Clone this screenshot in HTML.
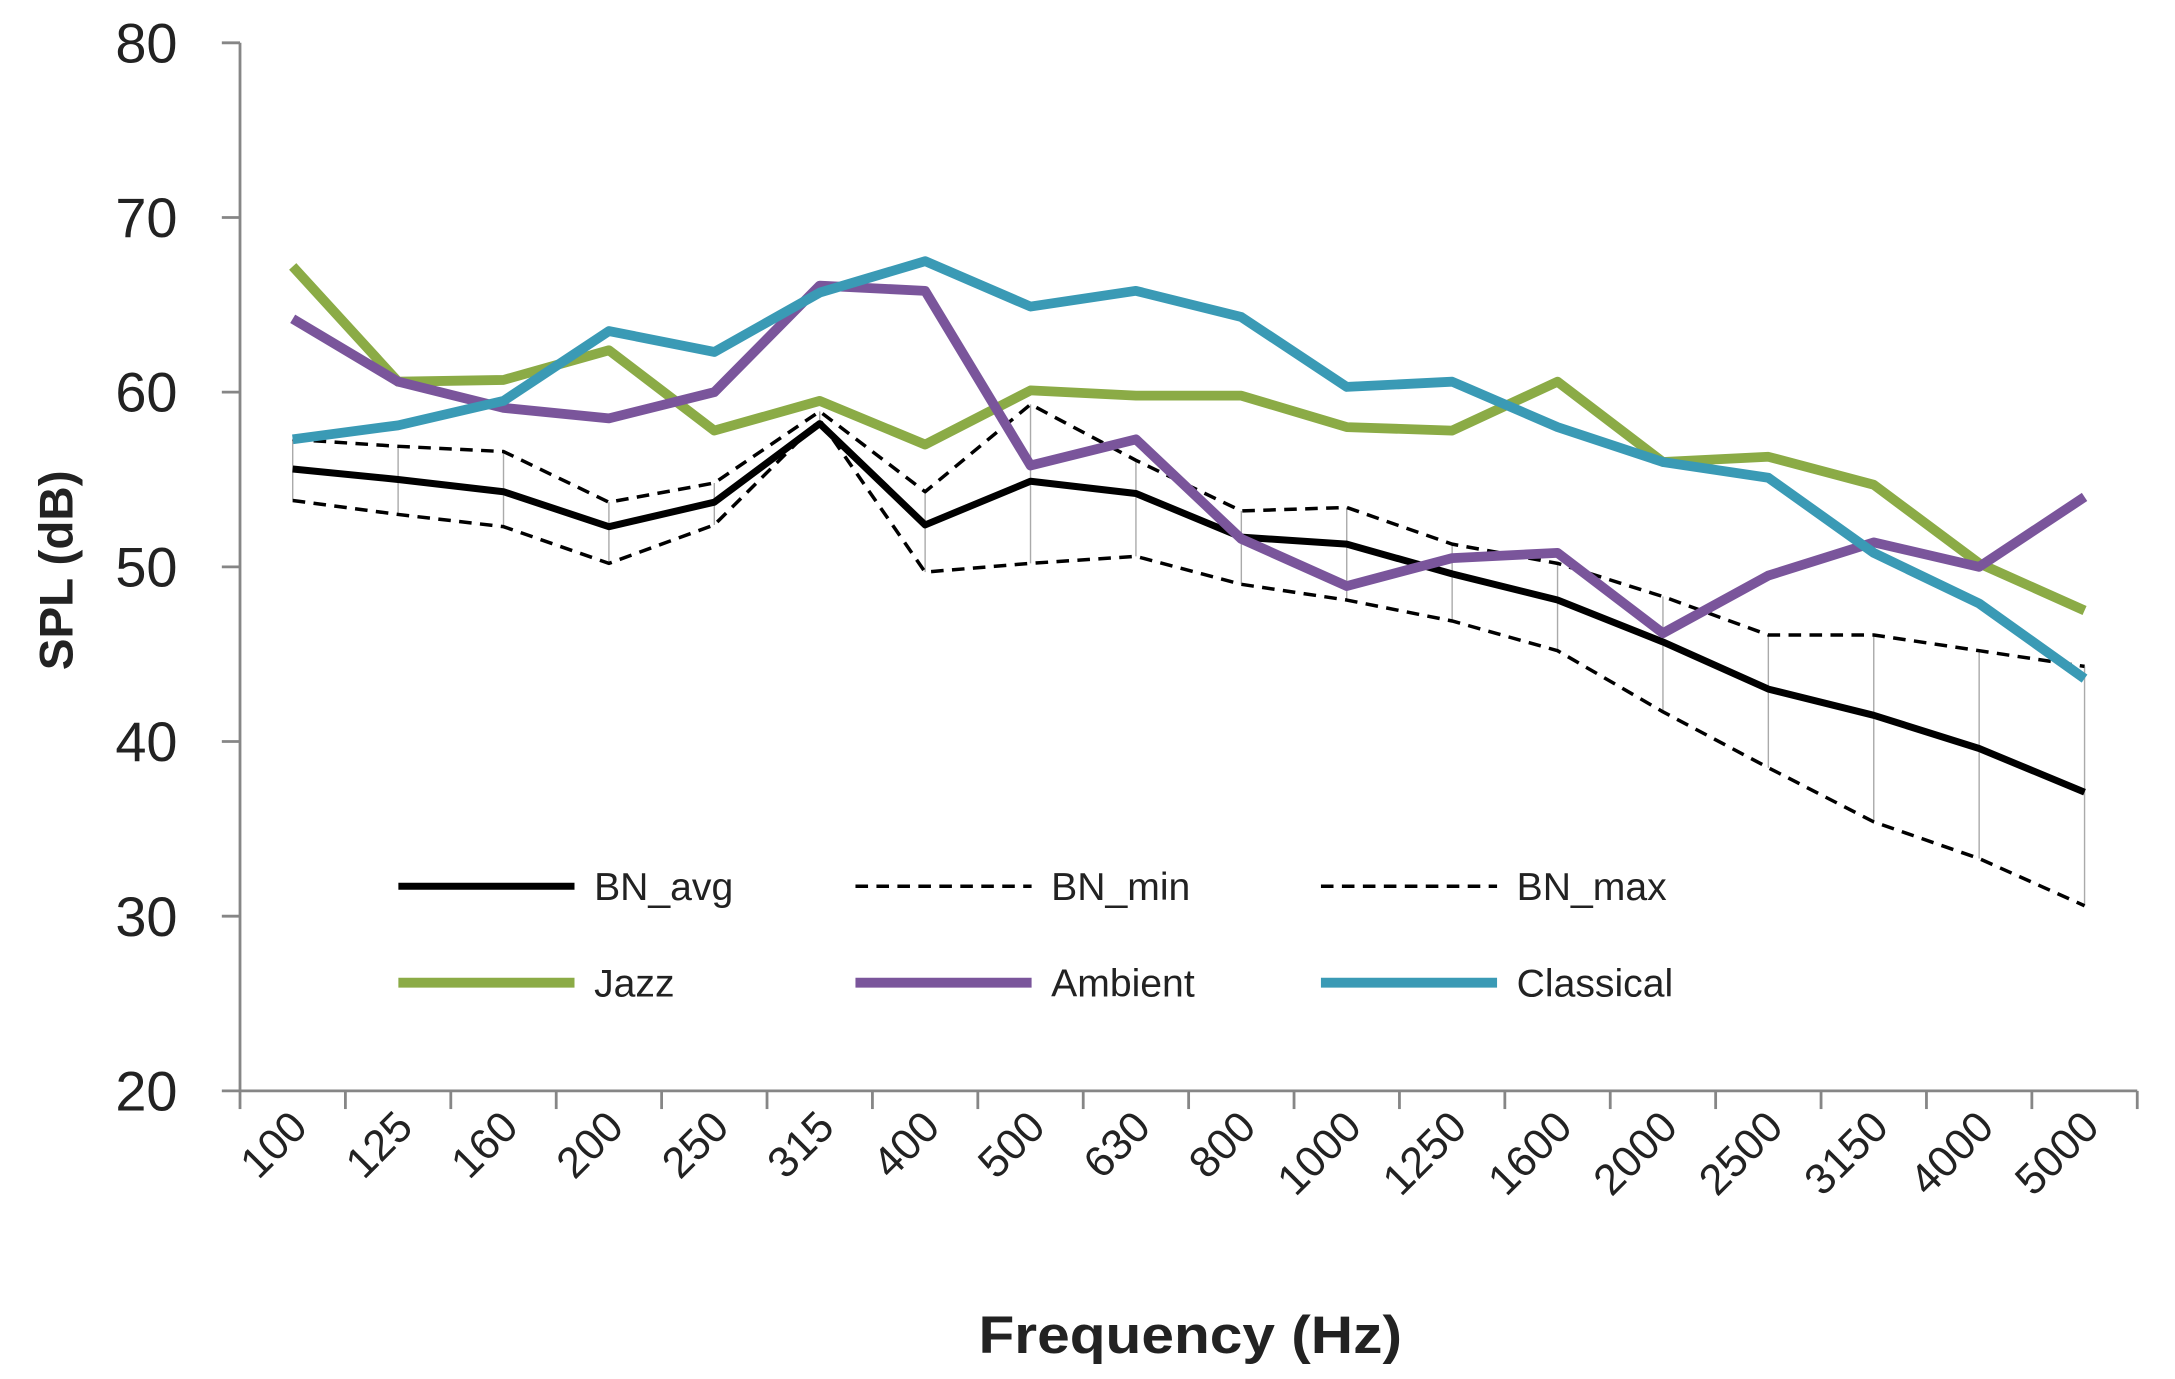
<!DOCTYPE html>
<html><head><meta charset="utf-8"><style>
html,body{margin:0;padding:0;background:#fff;}
svg{display:block;font-family:"Liberation Sans","DejaVu Sans",sans-serif;}
</style></head><body>
<svg id="chart" width="2175" height="1379" viewBox="0 0 1556 986.5" xmlns="http://www.w3.org/2000/svg">
<g id="axes"></g><g id="marks"></g><g id="legend"></g>
</svg>
<script>
const categories=["100","125","160","200","250","315","400","500","630","800","1000","1250","1600","2000","2500","3150","4000","5000"];
const yTicks=[20,30,40,50,60,70,80];
const bnAvg=[55.6,55.0,54.3,52.3,53.7,58.2,52.4,54.9,54.2,51.7,51.3,49.6,48.1,45.7,43.0,41.5,39.6,37.1];
const bnMin=[53.8,53.0,52.3,50.2,52.4,58.4,49.7,50.2,50.6,49.0,48.1,46.9,45.2,41.7,38.5,35.4,33.3,30.6];
const bnMax=[57.3,56.9,56.6,53.7,54.8,58.9,54.3,59.3,56.1,53.2,53.4,51.3,50.2,48.3,46.1,46.1,45.2,44.3];
const jazz=[67.2,60.6,60.7,62.4,57.8,59.5,57.0,60.1,59.8,59.8,58.0,57.8,60.6,56.0,56.3,54.7,50.2,47.5];
const ambient=[64.2,60.6,59.1,58.5,60.0,66.1,65.8,55.8,57.3,51.6,48.9,50.5,50.8,46.2,49.5,51.4,50.0,54.0];
const classical=[57.3,58.1,59.5,63.5,62.3,65.7,67.5,64.9,65.8,64.3,60.3,60.6,58.0,56.0,55.1,50.8,47.9,43.6];

const NS="http://www.w3.org/2000/svg";
const X0=171.7,X1=1529,Y20=780.4,Y80=30.6;
const bw=(X1-X0)/categories.length;
const xs=i=>X0+bw*(i+0.5);
const ys=v=>Y20-(v-20)/60*(Y20-Y80);
function mk(tag,attrs,parent){const e=document.createElementNS(NS,tag);for(const k in attrs)e.setAttribute(k,attrs[k]);parent.appendChild(e);return e;}
const axes=document.getElementById('axes'),marks=document.getElementById('marks'),legend=document.getElementById('legend');

let e=mk('line',{x1:X0,y1:Y80,x2:X0,y2:Y20,stroke:'#868686','stroke-width':2},axes);


e=mk('line',{x1:X0,y1:Y20,x2:X1,y2:Y20,stroke:'#868686','stroke-width':2},axes);


yTicks.forEach(v=>{
 mk('line',{x1:X0-13,y1:ys(v),x2:X0,y2:ys(v),stroke:'#868686','stroke-width':2},axes);
 const t=mk('text',{x:127,y:ys(v)+14,'text-anchor':'end','font-size':40,fill:'#222'},axes);
 t.textContent=v;
 
 
});
for(let i=0;i<=categories.length;i++){mk('line',{x1:X0+bw*i,y1:Y20,x2:X0+bw*i,y2:Y20+13,stroke:'#868686','stroke-width':2},axes);}
categories.forEach((c,i)=>{
 const x=xs(i)+12,y=808;
 const t=mk('text',{x:x,y:y,'text-anchor':'end','font-size':31,fill:'#222',transform:`rotate(-45 ${x} ${y})`},axes);
 t.textContent=c;
 
 
});
let t=mk('text',{x:700,y:968,'font-size':38,'font-weight':'bold',fill:'#222',textLength:303,lengthAdjust:'spacingAndGlyphs'},axes);
t.textContent='Frequency (Hz)';


t=mk('text',{x:0,y:0,'text-anchor':'middle','font-size':34,'font-weight':'bold',fill:'#222',transform:'translate(52 408) rotate(-90)'},axes);
t.textContent='SPL (dB)';



categories.forEach((c,i)=>{
 const l=mk('line',{x1:xs(i),y1:ys(bnMax[i]),x2:xs(i),y2:ys(bnMin[i]),stroke:'#aaa','stroke-width':1},marks);
 
 
});
function series(arr,color,w,dash,name){
 const p=mk('polyline',{points:arr.map((v,i)=>xs(i)+','+ys(v)).join(' '),fill:'none',stroke:color,'stroke-width':w,'stroke-linejoin':'round'},marks);
 if(dash)p.setAttribute('stroke-dasharray',dash);
 
 
}
series(bnMin,'#000',2.5,'9 6','bn-min-line');
series(bnMax,'#000',2.5,'9 6','bn-max-line');
series(bnAvg,'#000',5,null,'bn-avg-line');
series(jazz,'#8bab46',7,null,'jazz-line');
series(ambient,'#7a559b',7,null,'ambient-line');
series(classical,'#3a9ab5',7,null,'classical-line');

const leg=[["BN_avg",'#000',5,null,285,634],["BN_min",'#000',2.5,'9 6',612,634],["BN_max",'#000',2.5,'9 6',945,634],
["Jazz",'#8bab46',7,null,285,703],["Ambient",'#7a559b',7,null,612,703],["Classical",'#3a9ab5',7,null,945,703]];
leg.forEach(L=>{
 const g=mk('g',{},legend);
 
 
 const l=mk('line',{x1:L[4],y1:L[5],x2:L[4]+126,y2:L[5],stroke:L[1],'stroke-width':L[2]},g);
 if(L[3])l.setAttribute('stroke-dasharray',L[3]);
 const tx=mk('text',{x:L[4]+140,y:L[5]+10,'font-size':28,fill:'#222'},g);
 tx.textContent=L[0];
});
</script>
</body></html>
